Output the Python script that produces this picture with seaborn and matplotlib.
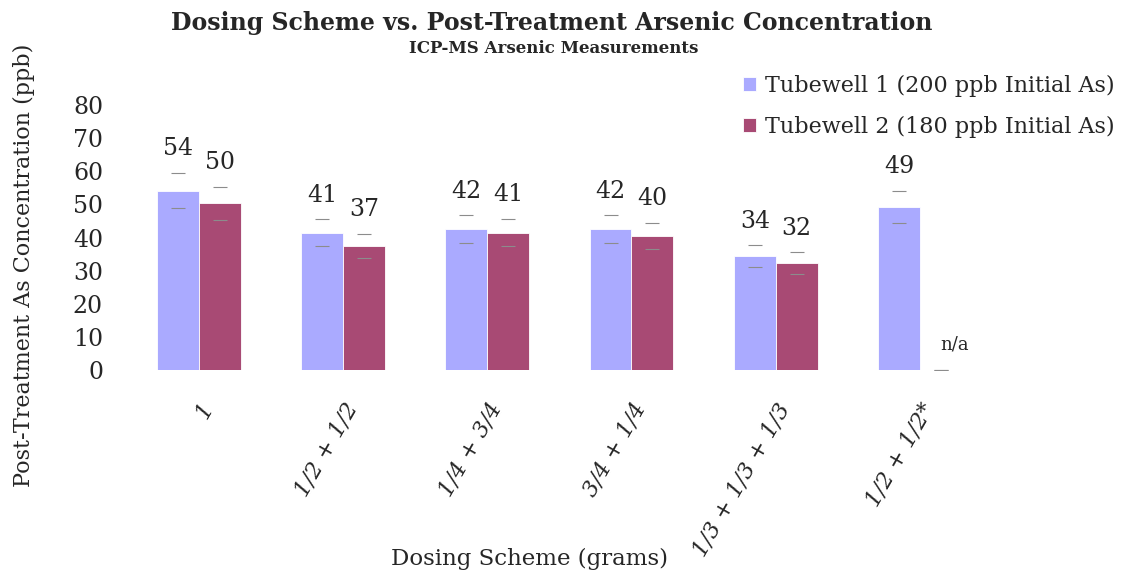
import numpy as np
import pandas as pd
import matplotlib
matplotlib.use('Agg')
import matplotlib.pyplot as plt
import seaborn as sns

# data
schemes = ['1', '1/2 + 1/2', '1/4 + 3/4', '3/4 + 1/4', '1/3 + 1/3 + 1/3', '1/2 + 1/2*']
series = ['Tubewell 1 (200 ppb Initial As)', 'Tubewell 2 (180 ppb Initial As)']
tw1_values = [54.2, 41.4, 42.5, 42.5, 34.3, 49.3]
tw2_values = [50.4, 37.4, 41.5, 40.5, 32.3, 0.0]
tw1_errors = [5.3, 4.1, 4.2, 4.3, 3.3, 4.8]
tw2_errors = [5.0, 3.7, 4.1, 4.0, 3.2, 0.0]
tw1_labels = ['54', '41', '42', '42', '34', '49']
tw2_labels = ['50', '37', '41', '40', '32', 'n/a']
colors = ['#aaaaff', '#a84a74']

df = pd.DataFrame({
    'scheme': schemes * 2,
    'series': [series[0]] * len(schemes) + [series[1]] * len(schemes),
    'value': tw1_values + [v if v > 0 else np.nan for v in tw2_values],
})

sns.set_style('white')
plt.rcParams['font.family'] = ['DejaVu Serif']

fig = plt.figure(figsize=(11.21, 5.75), dpi=100)
ax = fig.add_axes([0.113, 0.3565, 0.772, 0.4608])

sns.barplot(data=df, x='scheme', y='value', hue='series', palette=colors,
            width=0.58, errorbar=None, saturation=1, ax=ax,
            edgecolor='white', linewidth=0.6)

# error caps and value labels at each bar slot
n = len(schemes)
centers = np.arange(n)
bw = 0.29
for k, (vals, errs, labs) in enumerate([(tw1_values, tw1_errors, tw1_labels),
                                        (tw2_values, tw2_errors, tw2_labels)]):
    xs = centers + (k - 0.5) * bw
    for x, v, e, lab in zip(xs, vals, errs, labs):
        ax.errorbar(x, v, yerr=e, fmt='none', ecolor='#8c8c8c', elinewidth=0,
                    capsize=5, capthick=0.8)
        if lab == 'n/a':
            ax.annotate(lab, (x, v + e), xytext=(10, 12), textcoords='offset points',
                        ha='center', va='bottom', fontsize=13)
        else:
            ax.annotate(lab, (x, v + e), xytext=(0, 9), textcoords='offset points',
                        ha='center', va='bottom', fontsize=17)

ax.set_xlim(-0.5, n - 0.5)
ax.set_ylim(0, 80)
ax.set_yticks(range(0, 81, 10))
ax.tick_params(axis='y', labelsize=17, length=0, pad=17)
ax.tick_params(axis='x', length=0, pad=21)
ax.set_xticks(centers)
ax.set_xticklabels(schemes, rotation=60, ha='right', rotation_mode='anchor',
                   fontsize=16, style='italic')
sns.despine(ax=ax, left=True, bottom=True)

ax.set_xlabel('Dosing Scheme (grams)', fontsize=16.5, va='top')
ax.xaxis.set_label_coords(0.466, -0.672)
ax.set_ylabel('Post-Treatment As Concentration (ppb)', fontsize=16)
ax.yaxis.set_label_coords(-0.106, 0.396)

fig.text(0.492, 0.96, 'Dosing Scheme vs. Post-Treatment Arsenic Concentration',
         ha='center', va='center', fontsize=17, fontweight='bold')
fig.text(0.494, 0.915, 'ICP-MS Arsenic Measurements',
         ha='center', va='center', fontsize=12, fontweight='bold')

handles, labels = ax.get_legend_handles_labels()
ax.legend(handles, labels, loc='upper right', bbox_to_anchor=(1.012, 0.905),
          bbox_transform=fig.transFigure, frameon=False, fontsize=16,
          handlelength=0.6, handleheight=0.6, handletextpad=0.4, labelspacing=0.85)

fig.savefig('out.png', dpi=100)
